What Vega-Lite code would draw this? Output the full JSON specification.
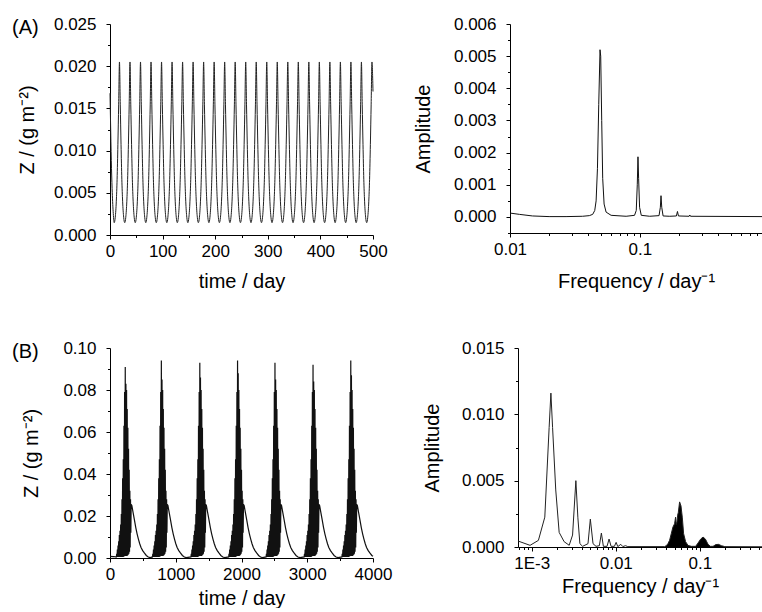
{
"$schema":"https://vega.github.io/schema/vega-lite/v6.json",
"background":"white",
"padding":{"left":12,"top":15,"right":0,"bottom":0},
"config":{
 "font":"Liberation Sans",
 "view":{"stroke":null},
 "axis":{"grid":false,"labelFont":"Liberation Sans","titleFont":"Liberation Sans","labelFontSize":17,"titleFontSize":20,"titleFontWeight":"normal","labelColor":"#000","titleColor":"#000","domainColor":"#000","tickColor":"#000","domainWidth":1,"tickWidth":1,"tickSize":4,"labelFlush":false,"labelOverlap":false},
 "axisX":{"labelPadding":4,"titlePadding":12},
 "axisY":{"labelPadding":10,"titlePadding":18},
 "title":{"font":"Liberation Sans","fontSize":20,"fontWeight":"normal","color":"#000"}
},
"datasets":{
"zA":[
{"t":0,"z":0.0168},{"t":1,"z":0.0135},{"t":2.5,"z":0.0088},{"t":4,"z":0.0055},{"t":6,"z":0.0028},{"t":8,"z":0.00146},
{"t":10,"z":0.0021},{"t":12,"z":0.004},{"t":13.5,"z":0.0066},{"t":15,"z":0.0107},{"t":16.5,"z":0.0155},{"t":18,"z":0.0205},{"t":19.5,"z":0.0155},{"t":21,"z":0.0107},{"t":22.5,"z":0.0066},{"t":24,"z":0.004},{"t":26,"z":0.0021},{"t":28,"z":0.00146},
{"t":30,"z":0.0021},{"t":32,"z":0.004},{"t":33.5,"z":0.0066},{"t":35,"z":0.0107},{"t":36.5,"z":0.0155},{"t":38,"z":0.0205},{"t":39.5,"z":0.0155},{"t":41,"z":0.0107},{"t":42.5,"z":0.0066},{"t":44,"z":0.004},{"t":46,"z":0.0021},{"t":48,"z":0.00146},
{"t":50,"z":0.0021},{"t":52,"z":0.004},{"t":53.5,"z":0.0066},{"t":55,"z":0.0107},{"t":56.5,"z":0.0155},{"t":58,"z":0.0205},{"t":59.5,"z":0.0155},{"t":61,"z":0.0107},{"t":62.5,"z":0.0066},{"t":64,"z":0.004},{"t":66,"z":0.0021},{"t":68,"z":0.00146},
{"t":70,"z":0.0021},{"t":72,"z":0.004},{"t":73.5,"z":0.0066},{"t":75,"z":0.0107},{"t":76.5,"z":0.0155},{"t":78,"z":0.0205},{"t":79.5,"z":0.0155},{"t":81,"z":0.0107},{"t":82.5,"z":0.0066},{"t":84,"z":0.004},{"t":86,"z":0.0021},{"t":88,"z":0.00146},
{"t":90,"z":0.0021},{"t":92,"z":0.004},{"t":93.5,"z":0.0066},{"t":95,"z":0.0107},{"t":96.5,"z":0.0155},{"t":98,"z":0.0205},{"t":99.5,"z":0.0155},{"t":101,"z":0.0107},{"t":102.5,"z":0.0066},{"t":104,"z":0.004},{"t":106,"z":0.0021},{"t":108,"z":0.00146},
{"t":110,"z":0.0021},{"t":112,"z":0.004},{"t":113.5,"z":0.0066},{"t":115,"z":0.0107},{"t":116.5,"z":0.0155},{"t":118,"z":0.0205},{"t":119.5,"z":0.0155},{"t":121,"z":0.0107},{"t":122.5,"z":0.0066},{"t":124,"z":0.004},{"t":126,"z":0.0021},{"t":128,"z":0.00146},
{"t":130,"z":0.0021},{"t":132,"z":0.004},{"t":133.5,"z":0.0066},{"t":135,"z":0.0107},{"t":136.5,"z":0.0155},{"t":138,"z":0.0205},{"t":139.5,"z":0.0155},{"t":141,"z":0.0107},{"t":142.5,"z":0.0066},{"t":144,"z":0.004},{"t":146,"z":0.0021},{"t":148,"z":0.00146},
{"t":150,"z":0.0021},{"t":152,"z":0.004},{"t":153.5,"z":0.0066},{"t":155,"z":0.0107},{"t":156.5,"z":0.0155},{"t":158,"z":0.0205},{"t":159.5,"z":0.0155},{"t":161,"z":0.0107},{"t":162.5,"z":0.0066},{"t":164,"z":0.004},{"t":166,"z":0.0021},{"t":168,"z":0.00146},
{"t":170,"z":0.0021},{"t":172,"z":0.004},{"t":173.5,"z":0.0066},{"t":175,"z":0.0107},{"t":176.5,"z":0.0155},{"t":178,"z":0.0205},{"t":179.5,"z":0.0155},{"t":181,"z":0.0107},{"t":182.5,"z":0.0066},{"t":184,"z":0.004},{"t":186,"z":0.0021},{"t":188,"z":0.00146},
{"t":190,"z":0.0021},{"t":192,"z":0.004},{"t":193.5,"z":0.0066},{"t":195,"z":0.0107},{"t":196.5,"z":0.0155},{"t":198,"z":0.0205},{"t":199.5,"z":0.0155},{"t":201,"z":0.0107},{"t":202.5,"z":0.0066},{"t":204,"z":0.004},{"t":206,"z":0.0021},{"t":208,"z":0.00146},
{"t":210,"z":0.0021},{"t":212,"z":0.004},{"t":213.5,"z":0.0066},{"t":215,"z":0.0107},{"t":216.5,"z":0.0155},{"t":218,"z":0.0205},{"t":219.5,"z":0.0155},{"t":221,"z":0.0107},{"t":222.5,"z":0.0066},{"t":224,"z":0.004},{"t":226,"z":0.0021},{"t":228,"z":0.00146},
{"t":230,"z":0.0021},{"t":232,"z":0.004},{"t":233.5,"z":0.0066},{"t":235,"z":0.0107},{"t":236.5,"z":0.0155},{"t":238,"z":0.0205},{"t":239.5,"z":0.0155},{"t":241,"z":0.0107},{"t":242.5,"z":0.0066},{"t":244,"z":0.004},{"t":246,"z":0.0021},{"t":248,"z":0.00146},
{"t":250,"z":0.0021},{"t":252,"z":0.004},{"t":253.5,"z":0.0066},{"t":255,"z":0.0107},{"t":256.5,"z":0.0155},{"t":258,"z":0.0205},{"t":259.5,"z":0.0155},{"t":261,"z":0.0107},{"t":262.5,"z":0.0066},{"t":264,"z":0.004},{"t":266,"z":0.0021},{"t":268,"z":0.00146},
{"t":270,"z":0.0021},{"t":272,"z":0.004},{"t":273.5,"z":0.0066},{"t":275,"z":0.0107},{"t":276.5,"z":0.0155},{"t":278,"z":0.0205},{"t":279.5,"z":0.0155},{"t":281,"z":0.0107},{"t":282.5,"z":0.0066},{"t":284,"z":0.004},{"t":286,"z":0.0021},{"t":288,"z":0.00146},
{"t":290,"z":0.0021},{"t":292,"z":0.004},{"t":293.5,"z":0.0066},{"t":295,"z":0.0107},{"t":296.5,"z":0.0155},{"t":298,"z":0.0205},{"t":299.5,"z":0.0155},{"t":301,"z":0.0107},{"t":302.5,"z":0.0066},{"t":304,"z":0.004},{"t":306,"z":0.0021},{"t":308,"z":0.00146},
{"t":310,"z":0.0021},{"t":312,"z":0.004},{"t":313.5,"z":0.0066},{"t":315,"z":0.0107},{"t":316.5,"z":0.0155},{"t":318,"z":0.0205},{"t":319.5,"z":0.0155},{"t":321,"z":0.0107},{"t":322.5,"z":0.0066},{"t":324,"z":0.004},{"t":326,"z":0.0021},{"t":328,"z":0.00146},
{"t":330,"z":0.0021},{"t":332,"z":0.004},{"t":333.5,"z":0.0066},{"t":335,"z":0.0107},{"t":336.5,"z":0.0155},{"t":338,"z":0.0205},{"t":339.5,"z":0.0155},{"t":341,"z":0.0107},{"t":342.5,"z":0.0066},{"t":344,"z":0.004},{"t":346,"z":0.0021},{"t":348,"z":0.00146},
{"t":350,"z":0.0021},{"t":352,"z":0.004},{"t":353.5,"z":0.0066},{"t":355,"z":0.0107},{"t":356.5,"z":0.0155},{"t":358,"z":0.0205},{"t":359.5,"z":0.0155},{"t":361,"z":0.0107},{"t":362.5,"z":0.0066},{"t":364,"z":0.004},{"t":366,"z":0.0021},{"t":368,"z":0.00146},
{"t":370,"z":0.0021},{"t":372,"z":0.004},{"t":373.5,"z":0.0066},{"t":375,"z":0.0107},{"t":376.5,"z":0.0155},{"t":378,"z":0.0205},{"t":379.5,"z":0.0155},{"t":381,"z":0.0107},{"t":382.5,"z":0.0066},{"t":384,"z":0.004},{"t":386,"z":0.0021},{"t":388,"z":0.00146},
{"t":390,"z":0.0021},{"t":392,"z":0.004},{"t":393.5,"z":0.0066},{"t":395,"z":0.0107},{"t":396.5,"z":0.0155},{"t":398,"z":0.0205},{"t":399.5,"z":0.0155},{"t":401,"z":0.0107},{"t":402.5,"z":0.0066},{"t":404,"z":0.004},{"t":406,"z":0.0021},{"t":408,"z":0.00146},
{"t":410,"z":0.0021},{"t":412,"z":0.004},{"t":413.5,"z":0.0066},{"t":415,"z":0.0107},{"t":416.5,"z":0.0155},{"t":418,"z":0.0205},{"t":419.5,"z":0.0155},{"t":421,"z":0.0107},{"t":422.5,"z":0.0066},{"t":424,"z":0.004},{"t":426,"z":0.0021},{"t":428,"z":0.00146},
{"t":430,"z":0.0021},{"t":432,"z":0.004},{"t":433.5,"z":0.0066},{"t":435,"z":0.0107},{"t":436.5,"z":0.0155},{"t":438,"z":0.0205},{"t":439.5,"z":0.0155},{"t":441,"z":0.0107},{"t":442.5,"z":0.0066},{"t":444,"z":0.004},{"t":446,"z":0.0021},{"t":448,"z":0.00146},
{"t":450,"z":0.0021},{"t":452,"z":0.004},{"t":453.5,"z":0.0066},{"t":455,"z":0.0107},{"t":456.5,"z":0.0155},{"t":458,"z":0.0205},{"t":459.5,"z":0.0155},{"t":461,"z":0.0107},{"t":462.5,"z":0.0066},{"t":464,"z":0.004},{"t":466,"z":0.0021},{"t":468,"z":0.00146},
{"t":470,"z":0.0021},{"t":472,"z":0.004},{"t":473.5,"z":0.0066},{"t":475,"z":0.0107},{"t":476.5,"z":0.0155},{"t":478,"z":0.0205},{"t":479.5,"z":0.0155},{"t":481,"z":0.0107},{"t":482.5,"z":0.0066},{"t":484,"z":0.004},{"t":486,"z":0.0021},{"t":488,"z":0.00146},
{"t":490,"z":0.0021},{"t":492,"z":0.004},{"t":493.5,"z":0.0066},{"t":495,"z":0.0107},{"t":496.5,"z":0.0155},{"t":498,"z":0.0205},{"t":500,"z":0.017}
],
"sA":[
{"f":0.01,"a":0.00012},{"f":0.0118,"a":0.00008},{"f":0.0149,"a":0.00003},{"f":0.02,"a":0.00001},{"f":0.027,"a":0.00001},{"f":0.0362,"a":0.00002},{"f":0.0408,"a":0.00004},{"f":0.0433,"a":0.00008},{"f":0.0449,"a":0.0002},{"f":0.046,"a":0.0005},{"f":0.0471,"a":0.0015},{"f":0.0482,"a":0.0035},{"f":0.0493,"a":0.0052},{"f":0.0499,"a":0.005},{"f":0.0508,"a":0.003},{"f":0.0517,"a":0.0012},{"f":0.053,"a":0.0004},{"f":0.0549,"a":0.00015},{"f":0.06,"a":0.00005},{"f":0.0783,"a":0.00002},{"f":0.0909,"a":0.00005},{"f":0.0937,"a":0.0002},{"f":0.0954,"a":0.001},{"f":0.0966,"a":0.00187},{"f":0.0977,"a":0.0012},{"f":0.0994,"a":0.0003},{"f":0.1024,"a":0.00005},{"f":0.1188,"a":0.00002},{"f":0.1403,"a":0.00004},{"f":0.1436,"a":0.0003},{"f":0.1453,"a":0.00066},{"f":0.1472,"a":0.0003},{"f":0.1508,"a":0.00003},{"f":0.1696,"a":0.00002},{"f":0.1909,"a":0.00003},{"f":0.1945,"a":0.00017},{"f":0.1979,"a":0.00003},{"f":0.2392,"a":0.00002},{"f":0.2421,"a":0.00006},{"f":0.245,"a":0.00002},{"f":0.87,"a":0.00001}
],
"zB":[
{"t":0,"z":0.0008},{"t":50,"z":0.0007},{"t":90,"z":0.0005},
{"t":97,"z":0.0005},{"t":102,"z":0.002},{"t":107,"z":0.0005},{"t":112,"z":0.004},{"t":117,"z":0.0005},{"t":122,"z":0.006},{"t":127,"z":0.0005},{"t":132,"z":0.008},{"t":137,"z":0.0005},{"t":142,"z":0.011},{"t":147,"z":0.0005},{"t":152,"z":0.013},{"t":157,"z":0.0005},{"t":162,"z":0.016},{"t":167,"z":0.0005},{"t":172,"z":0.021},{"t":177,"z":0.0005},{"t":182,"z":0.028},{"t":187,"z":0.0005},{"t":192,"z":0.038},{"t":197,"z":0.0005},{"t":202,"z":0.047},{"t":207,"z":0.0006},{"t":212,"z":0.063},{"t":217,"z":0.0008},{"t":222,"z":0.079},{"t":227,"z":0.001},{"t":232,"z":0.091},{"t":237,"z":0.001},{"t":242,"z":0.083},{"t":247,"z":0.001},{"t":252,"z":0.08},{"t":257,"z":0.001},{"t":262,"z":0.071},{"t":267,"z":0.0012},{"t":272,"z":0.062},{"t":277,"z":0.0015},{"t":282,"z":0.052},{"t":287,"z":0.002},{"t":292,"z":0.042},{"t":297,"z":0.003},{"t":302,"z":0.032},{"t":307,"z":0.005},{"t":312,"z":0.028},{"t":317,"z":0.012},
{"t":322,"z":0.0255},{"t":332,"z":0.025},{"t":352,"z":0.0215},{"t":372,"z":0.018},{"t":392,"z":0.0145},{"t":412,"z":0.0115},{"t":432,"z":0.009},{"t":452,"z":0.0068},{"t":472,"z":0.005},{"t":497,"z":0.0035},{"t":522,"z":0.0024},{"t":552,"z":0.0012},{"t":582,"z":0.0005},{"t":612,"z":0.0002},
{"t":646,"z":0.0005},{"t":651,"z":0.002},{"t":656,"z":0.0005},{"t":661,"z":0.004},{"t":666,"z":0.0005},{"t":671,"z":0.006},{"t":676,"z":0.0005},{"t":681,"z":0.008},{"t":686,"z":0.0005},{"t":691,"z":0.011},{"t":696,"z":0.0005},{"t":701,"z":0.013},{"t":706,"z":0.0005},{"t":711,"z":0.016},{"t":716,"z":0.0005},{"t":721,"z":0.021},{"t":726,"z":0.0005},{"t":731,"z":0.028},{"t":736,"z":0.0005},{"t":741,"z":0.038},{"t":746,"z":0.0005},{"t":751,"z":0.047},{"t":756,"z":0.0006},{"t":761,"z":0.063},{"t":766,"z":0.0008},{"t":771,"z":0.079},{"t":776,"z":0.001},{"t":781,"z":0.094},{"t":786,"z":0.001},{"t":791,"z":0.085},{"t":796,"z":0.001},{"t":801,"z":0.08},{"t":806,"z":0.001},{"t":811,"z":0.071},{"t":816,"z":0.0012},{"t":821,"z":0.062},{"t":826,"z":0.0015},{"t":831,"z":0.052},{"t":836,"z":0.002},{"t":841,"z":0.042},{"t":846,"z":0.003},{"t":851,"z":0.032},{"t":856,"z":0.005},{"t":861,"z":0.028},{"t":866,"z":0.012},
{"t":871,"z":0.0255},{"t":881,"z":0.025},{"t":901,"z":0.0215},{"t":921,"z":0.018},{"t":941,"z":0.0145},{"t":961,"z":0.0115},{"t":981,"z":0.009},{"t":1001,"z":0.0068},{"t":1021,"z":0.005},{"t":1046,"z":0.0035},{"t":1071,"z":0.0024},{"t":1101,"z":0.0012},{"t":1131,"z":0.0005},{"t":1161,"z":0.0002},
{"t":1231,"z":0.0005},{"t":1236,"z":0.002},{"t":1241,"z":0.0005},{"t":1246,"z":0.004},{"t":1251,"z":0.0005},{"t":1256,"z":0.006},{"t":1261,"z":0.0005},{"t":1266,"z":0.008},{"t":1271,"z":0.0005},{"t":1276,"z":0.011},{"t":1281,"z":0.0005},{"t":1286,"z":0.013},{"t":1291,"z":0.0005},{"t":1296,"z":0.016},{"t":1301,"z":0.0005},{"t":1306,"z":0.021},{"t":1311,"z":0.0005},{"t":1316,"z":0.028},{"t":1321,"z":0.0005},{"t":1326,"z":0.038},{"t":1331,"z":0.0005},{"t":1336,"z":0.047},{"t":1341,"z":0.0006},{"t":1346,"z":0.063},{"t":1351,"z":0.0008},{"t":1356,"z":0.079},{"t":1361,"z":0.001},{"t":1366,"z":0.093},{"t":1371,"z":0.001},{"t":1376,"z":0.086},{"t":1381,"z":0.001},{"t":1386,"z":0.08},{"t":1391,"z":0.001},{"t":1396,"z":0.071},{"t":1401,"z":0.0012},{"t":1406,"z":0.062},{"t":1411,"z":0.0015},{"t":1416,"z":0.052},{"t":1421,"z":0.002},{"t":1426,"z":0.042},{"t":1431,"z":0.003},{"t":1436,"z":0.032},{"t":1441,"z":0.005},{"t":1446,"z":0.028},{"t":1451,"z":0.012},
{"t":1456,"z":0.0255},{"t":1466,"z":0.025},{"t":1486,"z":0.0215},{"t":1506,"z":0.018},{"t":1526,"z":0.0145},{"t":1546,"z":0.0115},{"t":1566,"z":0.009},{"t":1586,"z":0.0068},{"t":1606,"z":0.005},{"t":1631,"z":0.0035},{"t":1656,"z":0.0024},{"t":1686,"z":0.0012},{"t":1716,"z":0.0005},{"t":1746,"z":0.0002},
{"t":1805,"z":0.0005},{"t":1810,"z":0.002},{"t":1815,"z":0.0005},{"t":1820,"z":0.004},{"t":1825,"z":0.0005},{"t":1830,"z":0.006},{"t":1835,"z":0.0005},{"t":1840,"z":0.008},{"t":1845,"z":0.0005},{"t":1850,"z":0.011},{"t":1855,"z":0.0005},{"t":1860,"z":0.013},{"t":1865,"z":0.0005},{"t":1870,"z":0.016},{"t":1875,"z":0.0005},{"t":1880,"z":0.021},{"t":1885,"z":0.0005},{"t":1890,"z":0.028},{"t":1895,"z":0.0005},{"t":1900,"z":0.038},{"t":1905,"z":0.0005},{"t":1910,"z":0.047},{"t":1915,"z":0.0006},{"t":1920,"z":0.063},{"t":1925,"z":0.0008},{"t":1930,"z":0.079},{"t":1935,"z":0.001},{"t":1940,"z":0.094},{"t":1945,"z":0.001},{"t":1950,"z":0.088},{"t":1955,"z":0.001},{"t":1960,"z":0.08},{"t":1965,"z":0.001},{"t":1970,"z":0.071},{"t":1975,"z":0.0012},{"t":1980,"z":0.062},{"t":1985,"z":0.0015},{"t":1990,"z":0.052},{"t":1995,"z":0.002},{"t":2000,"z":0.042},{"t":2005,"z":0.003},{"t":2010,"z":0.032},{"t":2015,"z":0.005},{"t":2020,"z":0.028},{"t":2025,"z":0.012},
{"t":2030,"z":0.0255},{"t":2040,"z":0.025},{"t":2060,"z":0.0215},{"t":2080,"z":0.018},{"t":2100,"z":0.0145},{"t":2120,"z":0.0115},{"t":2140,"z":0.009},{"t":2160,"z":0.0068},{"t":2180,"z":0.005},{"t":2205,"z":0.0035},{"t":2230,"z":0.0024},{"t":2260,"z":0.0012},{"t":2290,"z":0.0005},{"t":2320,"z":0.0002},
{"t":2374,"z":0.0005},{"t":2379,"z":0.002},{"t":2384,"z":0.0005},{"t":2389,"z":0.004},{"t":2394,"z":0.0005},{"t":2399,"z":0.006},{"t":2404,"z":0.0005},{"t":2409,"z":0.008},{"t":2414,"z":0.0005},{"t":2419,"z":0.011},{"t":2424,"z":0.0005},{"t":2429,"z":0.013},{"t":2434,"z":0.0005},{"t":2439,"z":0.016},{"t":2444,"z":0.0005},{"t":2449,"z":0.021},{"t":2454,"z":0.0005},{"t":2459,"z":0.028},{"t":2464,"z":0.0005},{"t":2469,"z":0.038},{"t":2474,"z":0.0005},{"t":2479,"z":0.047},{"t":2484,"z":0.0006},{"t":2489,"z":0.063},{"t":2494,"z":0.0008},{"t":2499,"z":0.079},{"t":2504,"z":0.001},{"t":2509,"z":0.093},{"t":2514,"z":0.001},{"t":2519,"z":0.085},{"t":2524,"z":0.001},{"t":2529,"z":0.08},{"t":2534,"z":0.001},{"t":2539,"z":0.071},{"t":2544,"z":0.0012},{"t":2549,"z":0.062},{"t":2554,"z":0.0015},{"t":2559,"z":0.052},{"t":2564,"z":0.002},{"t":2569,"z":0.042},{"t":2574,"z":0.003},{"t":2579,"z":0.032},{"t":2584,"z":0.005},{"t":2589,"z":0.028},{"t":2594,"z":0.012},
{"t":2599,"z":0.0255},{"t":2609,"z":0.025},{"t":2629,"z":0.0215},{"t":2649,"z":0.018},{"t":2669,"z":0.0145},{"t":2689,"z":0.0115},{"t":2709,"z":0.009},{"t":2729,"z":0.0068},{"t":2749,"z":0.005},{"t":2774,"z":0.0035},{"t":2799,"z":0.0024},{"t":2829,"z":0.0012},{"t":2859,"z":0.0005},{"t":2889,"z":0.0002},
{"t":2953,"z":0.0005},{"t":2958,"z":0.002},{"t":2963,"z":0.0005},{"t":2968,"z":0.004},{"t":2973,"z":0.0005},{"t":2978,"z":0.006},{"t":2983,"z":0.0005},{"t":2988,"z":0.008},{"t":2993,"z":0.0005},{"t":2998,"z":0.011},{"t":3003,"z":0.0005},{"t":3008,"z":0.013},{"t":3013,"z":0.0005},{"t":3018,"z":0.016},{"t":3023,"z":0.0005},{"t":3028,"z":0.021},{"t":3033,"z":0.0005},{"t":3038,"z":0.028},{"t":3043,"z":0.0005},{"t":3048,"z":0.038},{"t":3053,"z":0.0005},{"t":3058,"z":0.047},{"t":3063,"z":0.0006},{"t":3068,"z":0.063},{"t":3073,"z":0.0008},{"t":3078,"z":0.079},{"t":3083,"z":0.001},{"t":3088,"z":0.092},{"t":3093,"z":0.001},{"t":3098,"z":0.084},{"t":3103,"z":0.001},{"t":3108,"z":0.08},{"t":3113,"z":0.001},{"t":3118,"z":0.071},{"t":3123,"z":0.0012},{"t":3128,"z":0.062},{"t":3133,"z":0.0015},{"t":3138,"z":0.052},{"t":3143,"z":0.002},{"t":3148,"z":0.042},{"t":3153,"z":0.003},{"t":3158,"z":0.032},{"t":3163,"z":0.005},{"t":3168,"z":0.028},{"t":3173,"z":0.012},
{"t":3178,"z":0.0255},{"t":3188,"z":0.025},{"t":3208,"z":0.0215},{"t":3228,"z":0.018},{"t":3248,"z":0.0145},{"t":3268,"z":0.0115},{"t":3288,"z":0.009},{"t":3308,"z":0.0068},{"t":3328,"z":0.005},{"t":3353,"z":0.0035},{"t":3378,"z":0.0024},{"t":3408,"z":0.0012},{"t":3438,"z":0.0005},{"t":3468,"z":0.0002},
{"t":3527,"z":0.0005},{"t":3532,"z":0.002},{"t":3537,"z":0.0005},{"t":3542,"z":0.004},{"t":3547,"z":0.0005},{"t":3552,"z":0.006},{"t":3557,"z":0.0005},{"t":3562,"z":0.008},{"t":3567,"z":0.0005},{"t":3572,"z":0.011},{"t":3577,"z":0.0005},{"t":3582,"z":0.013},{"t":3587,"z":0.0005},{"t":3592,"z":0.016},{"t":3597,"z":0.0005},{"t":3602,"z":0.021},{"t":3607,"z":0.0005},{"t":3612,"z":0.028},{"t":3617,"z":0.0005},{"t":3622,"z":0.038},{"t":3627,"z":0.0005},{"t":3632,"z":0.047},{"t":3637,"z":0.0006},{"t":3642,"z":0.063},{"t":3647,"z":0.0008},{"t":3652,"z":0.079},{"t":3657,"z":0.001},{"t":3662,"z":0.094},{"t":3667,"z":0.001},{"t":3672,"z":0.087},{"t":3677,"z":0.001},{"t":3682,"z":0.08},{"t":3687,"z":0.001},{"t":3692,"z":0.071},{"t":3697,"z":0.0012},{"t":3702,"z":0.062},{"t":3707,"z":0.0015},{"t":3712,"z":0.052},{"t":3717,"z":0.002},{"t":3722,"z":0.042},{"t":3727,"z":0.003},{"t":3732,"z":0.032},{"t":3737,"z":0.005},{"t":3742,"z":0.028},{"t":3747,"z":0.012},
{"t":3752,"z":0.0255},{"t":3762,"z":0.025},{"t":3782,"z":0.0215},{"t":3802,"z":0.018},{"t":3822,"z":0.0145},{"t":3842,"z":0.0115},{"t":3862,"z":0.009},{"t":3882,"z":0.0068},{"t":3902,"z":0.005},{"t":3927,"z":0.0035},{"t":3952,"z":0.0024},{"t":3982,"z":0.0012},{"t":4000,"z":0.0008}
],
"sB":[
{"f":0.000686,"a":0.00045},{"f":0.000955,"a":0.000125},{"f":0.0012,"a":0.0005},{"f":0.00143,"a":0.00225},{"f":0.00161,"a":0.009},{"f":0.00169,"a":0.0116},{"f":0.00177,"a":0.009},{"f":0.00193,"a":0.0043},{"f":0.00212,"a":0.0011},{"f":0.00243,"a":0.0004},{"f":0.00279,"a":0.00013},{"f":0.00306,"a":0.0009},{"f":0.00335,"a":0.005},{"f":0.00354,"a":0.0022},{"f":0.00374,"a":0.00025},{"f":0.00403,"a":0.00005},{"f":0.00467,"a":0.00025},{"f":0.00498,"a":0.0021},{"f":0.00536,"a":0.00025},{"f":0.00582,"a":0.00005},{"f":0.00638,"a":0.0001},{"f":0.00674,"a":0.00105},{"f":0.00712,"a":0.00005},{"f":0.00787,"a":0.00005},{"f":0.00832,"a":0.0006},{"f":0.00879,"a":0.00005},{"f":0.00963,"a":0.00005},{"f":0.0101,"a":0.00035},{"f":0.01057,"a":0.00003},{"f":0.01148,"a":0.0002},{"f":0.01213,"a":0.00003},{"f":0.01306,"a":0.0001},{"f":0.0139,"a":0.00003},{"f":0.0381,"a":0.00003},
{"f":0.0399,"a":0.0001},{"f":0.04175,"a":0.00025},{"f":0.0437,"a":0.0005},{"f":0.04575,"a":0.001},{"f":0.0479,"a":0.0015},{"f":0.0501,"a":0.00175},{"f":0.0515,"a":0.00225},{"f":0.0525,"a":0.0017},{"f":0.0535,"a":0.0019},{"f":0.0545,"a":0.0024},{"f":0.0555,"a":0.0026},{"f":0.0575,"a":0.0034},{"f":0.0597,"a":0.0031},{"f":0.0619,"a":0.00225},{"f":0.0642,"a":0.001},{"f":0.0678,"a":0.0004},{"f":0.0724,"a":0.00012},{"f":0.0793,"a":0.00005},
{"f":0.0893,"a":0.00005},{"f":0.0953,"a":0.0003},{"f":0.1025,"a":0.0006},{"f":0.1093,"a":0.00075},{"f":0.1165,"a":0.0006},{"f":0.1254,"a":0.0002},{"f":0.1337,"a":0.00005},
{"f":0.1439,"a":0.00005},{"f":0.1549,"a":0.00018},{"f":0.1667,"a":0.0002},{"f":0.181,"a":0.0001},{"f":0.1983,"a":0.00003},{"f":0.55,"a":0.00002}
]
},
"vconcat":[
{"hconcat":[
 {"width":263,"height":211,
  "title":{"text":"(A)","anchor":"start","frame":"group","dx":-98,"dy":33,"baseline":"middle","offset":0},
  "data":{"name":"zA"},
  "layer":[
   {"mark":{"type":"line","interpolate":"monotone","color":"#222","strokeWidth":1},
    "encoding":{
     "x":{"field":"t","type":"quantitative","scale":{"domain":[0,500],"nice":false,"zero":false},"axis":{"orient":"bottom","values":[0,100,200,300,400,500],"title":"time / day"}},
     "y":{"field":"z","type":"quantitative","scale":{"domain":[0,0.025],"nice":false},"axis":{"orient":"left","values":[0,0.005,0.01,0.015,0.02,0.025],"format":".3f","title":"Z / (g m⁻²)","titlePadding":16}}}},
   {"mark":{"type":"line","opacity":0},
    "encoding":{
     "x":{"field":"t","type":"quantitative","axis":{"orient":"bottom","values":[50,150,250,350,450],"labels":false,"domain":false,"tickSize":2.5,"title":null}},
     "y":{"field":"z","type":"quantitative","axis":{"orient":"left","values":[0.0025,0.0075,0.0125,0.0175,0.0225],"labels":false,"domain":false,"tickSize":2.5,"title":null}}}}
  ],
  "resolve":{"axis":{"x":"independent","y":"independent"}}
 },
 {"width":252,"height":209,
  "data":{"name":"sA"},
  "layer":[
   {"mark":{"type":"line","color":"#111","strokeWidth":1},
    "encoding":{
     "x":{"field":"f","type":"quantitative","scale":{"type":"log","domain":[0.01,0.87],"nice":false},"axis":{"orient":"bottom","values":[0.01,0.1],"format":"~g","title":"Frequency / day⁻¹","titlePadding":14}},
     "y":{"field":"a","type":"quantitative","scale":{"domain":[-0.0005,0.006],"nice":false,"zero":false},"axis":{"orient":"left","values":[0,0.001,0.002,0.003,0.004,0.005,0.006],"format":".3f","title":"Amplitude","titlePadding":20}}}},
   {"mark":{"type":"line","opacity":0},
    "encoding":{
     "x":{"field":"f","type":"quantitative","axis":{"orient":"bottom","values":[0.02,0.03,0.04,0.05,0.06,0.07,0.08,0.09,0.2,0.3,0.4,0.5,0.6,0.7,0.8],"labels":false,"domain":false,"tickSize":2.5,"title":null}},
     "y":{"field":"a","type":"quantitative","axis":{"orient":"left","values":[-0.0005,0.0005,0.0015,0.0025,0.0035,0.0045,0.0055],"labels":false,"domain":false,"tickSize":2.5,"title":null}}}}
  ],
  "resolve":{"axis":{"x":"independent","y":"independent"}}
 }
],"spacing":137,"bounds":"flush"},
{"hconcat":[
 {"width":263,"height":210,
  "title":{"text":"(B)","anchor":"start","frame":"group","dx":-98,"dy":33,"baseline":"middle","offset":0},
  "data":{"name":"zB"},
  "layer":[
   {"mark":{"type":"line","color":"#111","strokeWidth":1.2},
    "encoding":{
     "x":{"field":"t","type":"quantitative","scale":{"domain":[0,4000],"nice":false,"zero":false},"axis":{"orient":"bottom","values":[0,1000,2000,3000,4000],"format":"d","title":"time / day","titlePadding":6}},
     "y":{"field":"z","type":"quantitative","scale":{"domain":[0,0.1],"nice":false},"axis":{"orient":"left","values":[0,0.02,0.04,0.06,0.08,0.1],"format":".2f","title":"Z / (g m⁻²)","titlePadding":21}}}},
   {"mark":{"type":"line","opacity":0},
    "encoding":{
     "x":{"field":"t","type":"quantitative","axis":{"orient":"bottom","values":[500,1500,2500,3500],"labels":false,"domain":false,"tickSize":2.5,"title":null}},
     "y":{"field":"z","type":"quantitative","axis":{"orient":"left","values":[0.01,0.03,0.05,0.07,0.09],"labels":false,"domain":false,"tickSize":2.5,"title":null}}}}
  ],
  "resolve":{"axis":{"x":"independent","y":"independent"}}
 },
 {"width":244,"height":199,
  "data":{"name":"sB"},
  "layer":[
   {"transform":[{"filter":{"field":"f","range":[0.038,0.2]}}],
    "mark":{"type":"area","color":"#000"},
    "encoding":{
     "x":{"field":"f","type":"quantitative","scale":{"type":"log","domain":[0.000686,0.55],"nice":false},"axis":{"orient":"bottom","values":[0.0007,0.0008,0.0009,0.002,0.003,0.004,0.005,0.006,0.007,0.008,0.009,0.02,0.03,0.04,0.05,0.06,0.07,0.08,0.09,0.2,0.3,0.4,0.5],"labels":false,"domain":false,"tickSize":2.5,"title":null}},
     "y":{"field":"a","type":"quantitative","scale":{"domain":[0,0.015],"nice":false},"axis":{"orient":"left","values":[0.0025,0.0075,0.0125],"labels":false,"domain":false,"tickSize":2.5,"title":null}}}},
   {"mark":{"type":"line","color":"#222","strokeWidth":1},
    "encoding":{
     "x":{"field":"f","type":"quantitative","axis":{"orient":"bottom","values":[0.001,0.01,0.1],"labelExpr":"datum.value < 0.005 ? '1E-3' : format(datum.value, '~g')","title":"Frequency / day⁻¹","titlePadding":5}},
     "y":{"field":"a","type":"quantitative","axis":{"orient":"left","values":[0,0.005,0.01,0.015],"format":".3f","title":"Amplitude","titlePadding":19}}}}
  ],
  "resolve":{"axis":{"x":"independent","y":"independent"}}
 }
],"spacing":145,"bounds":"flush"}
],
"spacing":48
}
